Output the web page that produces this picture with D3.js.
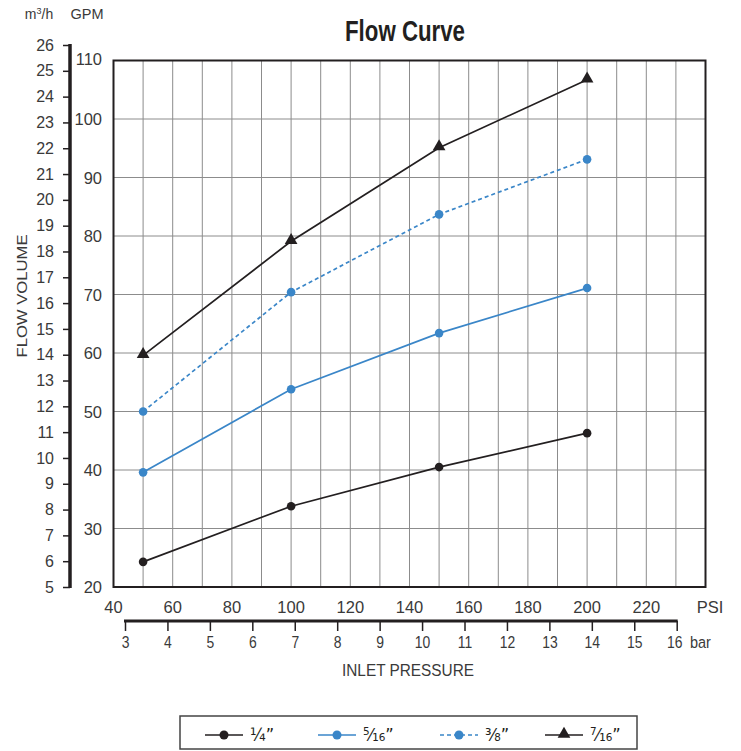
<!DOCTYPE html>
<html>
<head>
<meta charset="utf-8">
<script src="https://cdn.jsdelivr.net/npm/d3@7"></script>
<style>
  body { margin: 0; background: #fff; }
  svg { font-family: "Liberation Sans", Arial, sans-serif; }
</style>
</head>
<body>
<svg id="chart" width="741" height="751"></svg>
<script>
// Data
const psi = [50, 100, 150, 200];
const series = [
  { name: "¼”", color: "#231f20", dash: null, marker: "circle", values: [24.3, 33.8, 40.5, 46.3] },
  { name: "⁵⁄₁₆”", color: "#3a86c8", dash: null, marker: "circle", values: [39.6, 53.8, 63.4, 71.1] },
  { name: "⅜”", color: "#3a86c8", dash: "4,3", marker: "circle", values: [50, 70.4, 83.7, 93.1] },
  { name: "⁷⁄₁₆”", color: "#231f20", dash: null, marker: "triangle", values: [59.6, 79.1, 95.1, 106.7] },
];
const gpmTicks = [20, 30, 40, 50, 60, 70, 80, 90, 100, 110];
const m3hTicks = d3.range(5, 27);
const psiTicks = [40, 60, 80, 100, 120, 140, 160, 180, 200, 220];
const psiGrid = d3.range(50, 240, 10);
const barTicks = d3.range(3, 17);

const svg = d3.select("#chart");
const ink = "#231f20";
const txt = "#3a3a3a";

const x = d3.scaleLinear([40, 240], [113.5, 705.5]);
const y = d3.scaleLinear([20, 110], [587, 60.5]);
const yM = d3.scaleLinear([5, 26], [587, 45]);
const xBar = d3.scaleLinear([3, 16], [125, 676.7]);

// Title
svg.append("text").attr("x", 405).attr("y", 41).attr("text-anchor", "middle")
  .attr("font-size", 29).attr("font-weight", "bold").attr("fill", ink)
  .attr("textLength", 120).attr("lengthAdjust", "spacingAndGlyphs").text("Flow Curve");

// Grid
const grid = svg.append("g").attr("stroke", "#8c8c8c").attr("stroke-width", 1);
grid.selectAll("line.v").data(psiGrid).join("line").attr("class", "v")
  .attr("x1", (d) => x(d)).attr("x2", (d) => x(d)).attr("y1", y(20)).attr("y2", y(110));
grid.selectAll("line.h").data(gpmTicks.slice(1, -1)).join("line").attr("class", "h")
  .attr("x1", x(40)).attr("x2", x(240)).attr("y1", (d) => y(d)).attr("y2", (d) => y(d));
svg.append("rect").attr("x", x(40)).attr("y", y(110)).attr("width", x(240) - x(40)).attr("height", y(20) - y(110))
  .attr("fill", "none").attr("stroke", ink).attr("stroke-width", 2);

// m3/h axis
const axM = svg.append("g").attr("transform", "translate(70,0)")
  .call(d3.axisLeft(yM).tickValues(m3hTicks).tickSize(7).tickPadding(9).tickFormat(d3.format("d")));
axM.select(".domain").attr("stroke", ink).attr("stroke-width", 3.5).attr("d", `M0,${yM(26) - 1}V${yM(5) + 1}`);
axM.selectAll(".tick line").attr("stroke", ink).attr("stroke-width", 1.5);
axM.selectAll("text").attr("font-size", 16).attr("fill", txt).attr("font-family", "Liberation Sans, sans-serif");

// GPM labels
svg.append("g").selectAll("text").data(gpmTicks).join("text")
  .attr("x", 102).attr("y", (d) => y(d) + (d === 110 ? 4 : 6)).attr("text-anchor", "end")
  .attr("font-size", 16.5).attr("fill", txt).text((d) => d);

svg.append("text").attr("x", 39).attr("y", 19).attr("text-anchor", "middle").attr("font-size", 14).attr("fill", txt)
  .html("m<tspan font-size='9' dy='-5'>3</tspan><tspan dy='5'>/h</tspan>");
svg.append("text").attr("x", 87).attr("y", 19).attr("text-anchor", "middle").attr("font-size", 14.5).attr("fill", txt).text("GPM");
svg.append("text").attr("transform", "translate(27,296) rotate(-90)").attr("text-anchor", "middle")
  .attr("font-size", 15).attr("fill", txt).attr("textLength", 123).attr("lengthAdjust", "spacingAndGlyphs").text("FLOW VOLUME");

// PSI labels
svg.append("g").selectAll("text").data(psiTicks).join("text")
  .attr("x", (d) => x(d)).attr("y", 613).attr("text-anchor", "middle").attr("font-size", 16.5).attr("fill", txt).text((d) => d);
svg.append("text").attr("x", 710).attr("y", 613).attr("text-anchor", "middle").attr("font-size", 16.5).attr("fill", txt).text("PSI");

// bar axis
const axB = svg.append("g").attr("transform", "translate(0,621)")
  .call(d3.axisBottom(xBar).tickValues(barTicks).tickSize(10).tickPadding(5).tickFormat(d3.format("d")));
axB.select(".domain").attr("stroke", ink).attr("stroke-width", 3).attr("d", `M${xBar(3) - 1},0H${xBar(16) + 1}`);
axB.selectAll(".tick line").attr("stroke", ink).attr("stroke-width", 1.5);
axB.selectAll("text").attr("font-size", 17).attr("fill", txt).attr("transform", "scale(0.82,1)");
axB.selectAll(".tick").filter((d) => d === 16).select("text").attr("x", -3);
svg.append("text").attr("x", 690).attr("y", 648).attr("font-size", 17).attr("fill", txt)
  .attr("transform", "translate(690,0) scale(0.85,1) translate(-690,0)").text("bar");
svg.append("text").attr("x", 408).attr("y", 676).attr("text-anchor", "middle").attr("font-size", 16).attr("fill", txt)
  .attr("textLength", 132).attr("lengthAdjust", "spacingAndGlyphs").text("INLET PRESSURE");

// Series
const line = d3.line().x((d) => x(d[0])).y((d) => y(d[1]));
const tri = d3.symbol(d3.symbolTriangle, 70);
const gs = svg.selectAll("g.series").data(series).join("g").attr("class", "series");
gs.append("path").attr("fill", "none").attr("stroke", (d) => d.color).attr("stroke-width", 1.7)
  .attr("stroke-dasharray", (d) => d.dash).attr("d", (d) => line(psi.map((p, i) => [p, d.values[i]])));
gs.each(function (s) {
  const pts = psi.map((p, i) => [p, s.values[i]]);
  const g = d3.select(this);
  if (s.marker === "circle") {
    g.selectAll("circle").data(pts).join("circle").attr("cx", (d) => x(d[0])).attr("cy", (d) => y(d[1]))
      .attr("r", 4.3).attr("fill", s.color);
  } else {
    g.selectAll("path.m").data(pts).join("path").attr("class", "m").attr("d", tri)
      .attr("transform", (d) => `translate(${x(d[0])},${y(d[1]) - 1})`).attr("fill", s.color);
  }
});

// Legend
const leg = svg.append("g");
leg.append("rect").attr("x", 180).attr("y", 716).attr("width", 457).attr("height", 33)
  .attr("fill", "none").attr("stroke", "#444").attr("stroke-width", 1.5);
const legX = [205, 318, 440, 545];
series.forEach((s, i) => {
  const g = leg.append("g").attr("transform", `translate(${legX[i]},735)`);
  g.append("line").attr("x1", 0).attr("x2", 38).attr("stroke", s.color).attr("stroke-width", 1.7).attr("stroke-dasharray", s.dash);
  if (s.marker === "circle") g.append("circle").attr("cx", 19).attr("r", 4.5).attr("fill", s.color);
  else g.append("path").attr("d", tri).attr("transform", "translate(19,-1)").attr("fill", s.color);
  g.append("text").attr("x", 45).attr("y", 6).attr("font-size", 18).attr("fill", ink)
    .attr("font-family", "DejaVu Sans Condensed, sans-serif").text(s.name);
});
</script>
</body>
</html>
